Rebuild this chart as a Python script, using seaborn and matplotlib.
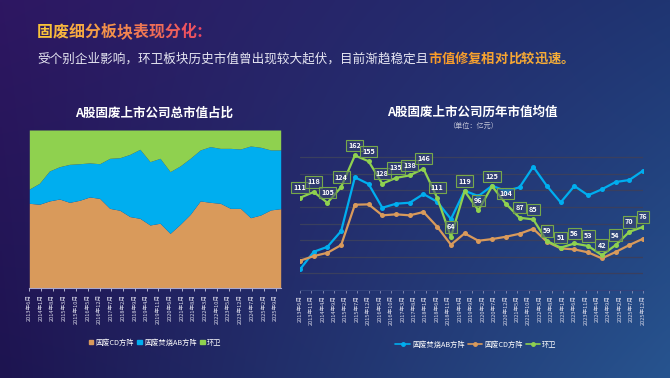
import numpy as np
import pandas as pd
import matplotlib
matplotlib.use('Agg')
import matplotlib.pyplot as plt
import seaborn as sns
from matplotlib.patches import Patch
from matplotlib.lines import Line2D
from matplotlib.colors import to_rgb

sns.set_theme(style='white')
plt.rcParams['font.family'] = ['Noto Sans CJK SC', 'DejaVu Sans']
plt.rcParams['axes.unicode_minus'] = False

# ---------------- data ----------------
periods = ['2013-06', '2013-12', '2014-06', '2014-12', '2015-06', '2015-12', '2016-06',
           '2016-12', '2017-06', '2017-12', '2018-06', '2018-12', '2019-06', '2019-12',
           '2020-06', '2020-12', '2021-06', '2021-12', '2022-06', '2022-12', '2023-06',
           '2023-12', '2024-06', '2024-12', '2025-06', '2025-12']

# left chart: share of total market value (%)
share_cd = [53.7, 53.1, 55.2, 56.4, 54.3, 55.6, 57.7, 56.8, 50.5, 49.3, 45.3, 44.2, 40.0,
            41.1, 34.7, 40.4, 46.7, 55.2, 54.3, 53.7, 50.5, 50.5, 44.6, 46.3, 49.5, 50.3]
share_ab = [9.0, 13.2, 18.9, 20.4, 24.0, 23.1, 21.5, 21.9, 31.6, 33.2, 39.3, 43.6, 40.0,
            41.0, 39.0, 36.9, 35.4, 32.2, 35.2, 34.7, 37.9, 37.5, 45.3, 42.8, 37.9, 37.1]
share_hw = [37.3, 33.7, 25.9, 23.2, 21.7, 21.3, 20.8, 21.3, 17.9, 17.5, 15.4, 12.2, 20.0,
            17.9, 26.3, 22.7, 17.9, 12.6, 10.5, 11.6, 11.6, 12.0, 10.1, 10.9, 12.6, 12.6]
left_ticks = ['2013年6月', '2014年1月', '2014年8月', '2015年3月', '2015年10月', '2016年5月',
              '2016年12月', '2017年7月', '2018年2月', '2018年9月', '2019年4月', '2019年11月',
              '2020年6月', '2021年1月', '2021年8月', '2022年3月', '2022年10月', '2023年5月',
              '2023年12月', '2024年7月', '2025年2月', '2025年9月']

# right chart: average market value (亿元)
avg_ab = [24.8, 46.0, 52.0, 71.0, 135.7, 127.6, 99.0, 103.9, 105.1, 115.5, 106.3, 85.4, 119.5,
          113.1, 125.5, 119.2, 123.6, 148.4, 125.2, 105.5, 125.2, 114.0, 121.2, 130.0, 132.4, 143.6]
avg_cd = [35.2, 40.8, 44.8, 54.1, 102.7, 103.1, 89.9, 91.1, 89.9, 93.9, 76.2, 54.5, 68.2,
          59.3, 61.3, 64.1, 67.7, 73.7, 58.1, 50.1, 48.9, 45.3, 38.1, 45.7, 54.1, 61.7]
avg_hw = [111, 118, 105, 124, 162, 155, 128, 135, 138, 146, 111, 64, 119,
          96, 125, 104, 87, 85, 59, 51, 56, 53, 42, 54, 70, 76]
right_ticks = ['2013年6月', '2013年11月', '2014年4月', '2014年9月', '2015年2月', '2015年7月',
               '2015年12月', '2016年5月', '2016年10月', '2017年3月', '2017年8月', '2018年1月',
               '2018年6月', '2018年11月', '2019年4月', '2019年9月', '2020年2月', '2020年7月',
               '2020年12月', '2021年5月', '2021年10月', '2022年3月', '2022年8月', '2023年1月',
               '2023年6月', '2023年11月', '2024年4月', '2024年9月', '2025年2月', '2025年7月',
               '2025年12月']

series_names = ['固废焚烧AB方阵', '固废CD方阵', '环卫']
C_CD, C_AB, C_HW = '#d99a5b', '#00aeef', '#8fd14f'


def month_index(s):
    s = s.replace('年', '-').replace('月', '')
    y, m = s.split('-')
    return int(y) * 12 + int(m)


base = month_index(periods[0])
xm = np.array([month_index(p) - base for p in periods])
lt_pos = [month_index(t) - base for t in left_ticks]
rt_pos = [month_index(t) - base for t in right_ticks]

W, H = 670, 378
fig = plt.figure(figsize=(W / 100, H / 100), dpi=100)

# ---------------- background gradient ----------------
bg = fig.add_axes([0, 0, 1, 1], zorder=-10)
tl, tr = np.array(to_rgb('#2e1762')), np.array(to_rgb('#1f3572'))
bl, br = np.array(to_rgb('#1d1450')), np.array(to_rgb('#27548f'))
gx = np.linspace(0, 1, 200)[None, :, None]
gy = np.linspace(0, 1, 120)[:, None, None]
img = (1 - gy) * ((1 - gx) * tl + gx * tr) + gy * ((1 - gx) * bl + gx * br)
bg.imshow(np.clip(img, 0, 1), aspect='auto', extent=[0, 1, 0, 1], interpolation='bilinear')
bg.axis('off')


def fx(px):
    return px / W


def fy(py):
    return 1 - py / H


# ---------------- header text ----------------
title = '固废细分板块表现分化：'
c0, c1 = np.array(to_rgb('#f8c23a')), np.array(to_rgb('#ec4763'))
adv = 15.9
for i, ch in enumerate(title):
    t = i / (len(title) - 1)
    fig.text(fx(37 + i * adv), fy(32), ch, fontsize=adv / 1.389, fontweight='bold',
             color=tuple((1 - t) * c0 + t * c1), ha='left', va='center')

sub1 = '受个别企业影响，环卫板块历史市值曾出现较大起伏，目前渐趋稳定且'
sub2 = '市值修复相对比较迅速。'
fig.text(fx(37), fy(59), sub1, fontsize=12.6 / 1.389, color='#e6e6f2', ha='left', va='center')
h0, h1 = np.array(to_rgb('#f79a2a')), np.array(to_rgb('#f6b03a'))
adv2 = 13.3
for i, ch in enumerate(sub2):
    t = i / (len(sub2) - 1)
    fig.text(fx(428 + i * adv2), fy(59), ch, fontsize=adv2 / 1.389, fontweight='bold',
             color=tuple((1 - t) * h0 + t * h1), ha='left', va='center')

# ---------------- left chart: stacked area ----------------
axL = fig.add_axes([fx(29.3), fy(288.3), fx(280.7) - fx(29.3), fy(130) - fy(288.3)])
axL.set_facecolor('none')
y1 = np.array(share_cd)
y2 = y1 + np.array(share_ab)
y3 = y2 + np.array(share_hw)
axL.fill_between(xm, 0, y1, color=C_CD, lw=0)
axL.fill_between(xm, y1, y2, color=C_AB, lw=0)
axL.fill_between(xm, y2, y3, color=C_HW, lw=0)
axL.set_xlim(xm[0], xm[-1])
axL.set_ylim(0, 100)
axL.set_yticks([])
axL.set_xticks(lt_pos)
axL.set_xticklabels(left_ticks, rotation=90, fontsize=4.1, color='#d8d8e8')
axL.tick_params(axis='x', length=2.5, width=0.6, color='#c8c8e0', pad=1.5, bottom=True)
for s in ['top', 'right', 'left']:
    axL.spines[s].set_visible(False)
axL.spines['bottom'].set_color('#a8a8d0')
axL.spines['bottom'].set_linewidth(0.8)

fig.text(fx(154), fy(113), 'A股固废上市公司总市值占比', fontsize=9, fontweight='bold',
         color='white', ha='center', va='center')

hL = [Patch(color=C_CD), Patch(color=C_AB), Patch(color=C_HW)]
fig.legend(hL, ['固废CD方阵', '固废焚烧AB方阵', '环卫'], loc='center',
           bbox_to_anchor=(fx(155), fy(342.5)), ncol=3, frameon=False, fontsize=5.2,
           handlelength=0.6, handleheight=0.6, handletextpad=0.3, columnspacing=0.5,
           labelcolor='white', borderpad=0)

# ---------------- right chart: lines ----------------
axR = fig.add_axes([fx(300), fy(290), fx(643) - fx(300), fy(140.5) - fy(290)])
axR.set_facecolor('none')
df = pd.DataFrame({'x': np.concatenate([xm, xm, xm]),
                   'v': avg_ab + avg_cd + avg_hw,
                   's': np.repeat(series_names, len(xm))})
pal = {series_names[0]: C_AB, series_names[1]: C_CD, series_names[2]: C_HW}
for name in series_names:
    sub = df[df['s'] == name]
    sns.lineplot(data=sub, x='x', y='v', color=pal[name], marker='o', markersize=3.6,
                 markeredgewidth=0, linewidth=1.6, ax=axR, legend=False)
for xv, v in zip(xm, avg_hw):
    axR.annotate(f'{v:.0f}', (xv, v), xytext=(0, 10), textcoords='offset pixels',
                 ha='center', va='center', fontsize=5.2, fontweight='bold', color='white',
                 bbox=dict(boxstyle='square,pad=0.3', fc=(0.23, 0.28, 0.45, 0.55),
                           ec='#76a84a', lw=0.8), zorder=6)
axR.set_xlim(xm[0], xm[-1])
axR.set_ylim(0, 180)
axR.set_yticks([20, 40, 60, 80, 100, 120, 140, 160])
axR.yaxis.grid(True, color='#3a3f5e', lw=0.9)
axR.xaxis.grid(False)
axR.tick_params(axis='y', length=0, labelleft=False)
axR.set_xticks(rt_pos)
axR.set_xticklabels(right_ticks, rotation=90, fontsize=4.1, color='#d8d8e8')
axR.tick_params(axis='x', length=2, width=0.6, color='#8890b8', pad=1.5, bottom=True)
axR.set_xlabel('')
axR.set_ylabel('')
for s in ['top', 'right', 'left']:
    axR.spines[s].set_visible(False)
axR.spines['bottom'].set_color('#34437c')
axR.spines['bottom'].set_linewidth(0.8)

fig.text(fx(472.5), fy(112.5), 'A股固废上市公司历年市值均值', fontsize=9, fontweight='bold',
         color='white', ha='center', va='center')
fig.text(fx(473), fy(125.5), '（单位：亿元）', fontsize=5.1, color='#c4c6d8',
         ha='center', va='center')

hR = [Line2D([0], [0], color=pal[n], lw=1.2, marker='o', markersize=2.5) for n in series_names]
fig.legend(hR, series_names, loc='center', bbox_to_anchor=(fx(476), fy(345)), ncol=3,
           frameon=False, fontsize=5.2, handlelength=2.0, handletextpad=0.3,
           columnspacing=0.4, labelcolor='white', borderpad=0)

fig.savefig('out.png', dpi=100)
